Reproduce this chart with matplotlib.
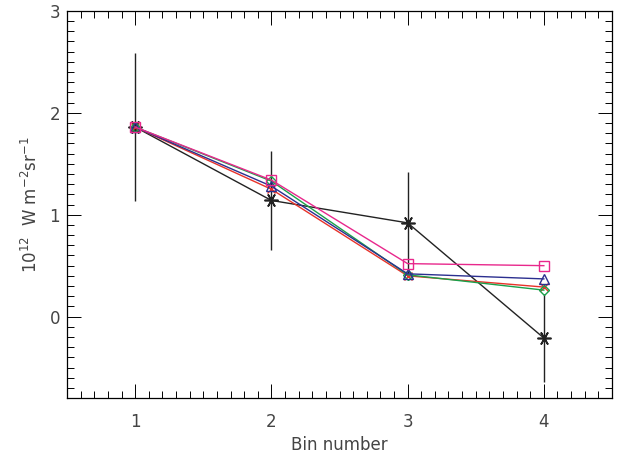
import matplotlib
matplotlib.use('Agg')
import matplotlib.pyplot as plt
from matplotlib.ticker import MultipleLocator
import numpy as np

bins = [1, 2, 3, 4]

# black asterisks with error bars
obs = [1.86, 1.14, 0.92, -0.21]
obs_err = [0.73, 0.49, 0.50, 0.43]

# model curves
red = [1.86, 1.25, 0.40, 0.29]
green = [1.86, 1.33, 0.41, 0.26]
blue = [1.86, 1.28, 0.42, 0.37]
pink = [1.86, 1.34, 0.52, 0.50]

fig = plt.figure(figsize=(6.27, 4.55), dpi=100)
ax = fig.add_axes([0.107, 0.125, 0.869, 0.851])

ax.errorbar(bins, obs, yerr=obs_err, color='#222222', lw=1.0, elinewidth=1.0,
            capsize=0, marker=(6, 2, 90), markersize=10, mew=1.2, zorder=2)
ax.plot(bins, red, color='#e8322a', lw=1.0, marker='x', markersize=6, mew=1.0, zorder=3)
ax.plot(bins, green, color='#1aa04a', lw=1.0, marker='D', markersize=5, mfc='none', mew=1.0, zorder=4)
ax.plot(bins, blue, color='#2b2f8f', lw=1.0, marker='^', markersize=7, mfc='none', mew=1.0, zorder=5)
ax.plot(bins, pink, color='#e8288c', lw=1.0, marker='s', markersize=7, mfc='none', mew=1.0, zorder=6)

ax.set_xlim(0.5, 4.5)
ax.set_ylim(-0.8, 3.0)
ax.xaxis.set_major_locator(MultipleLocator(1))
ax.xaxis.set_minor_locator(MultipleLocator(0.1))
ax.yaxis.set_major_locator(MultipleLocator(1))
ax.yaxis.set_minor_locator(MultipleLocator(0.1))
ax.tick_params(which='both', direction='in', top=True, right=True, labelsize=12,
               labelcolor='#444444', width=0.7)
ax.tick_params(which='major', length=10)
ax.tick_params(axis='x', which='major', pad=11)
ax.tick_params(axis='y', which='major', pad=5)
ax.tick_params(which='minor', length=5)
for s in ax.spines.values():
    s.set_linewidth(0.9)

ax.set_xlabel('Bin number', fontsize=12, color='#444444', labelpad=3)
ax.set_ylabel(r'10$^{12}$  W m$^{-2}$sr$^{-1}$', fontsize=12, color='#444444', labelpad=6)

fig.savefig('out.png', dpi=100)
